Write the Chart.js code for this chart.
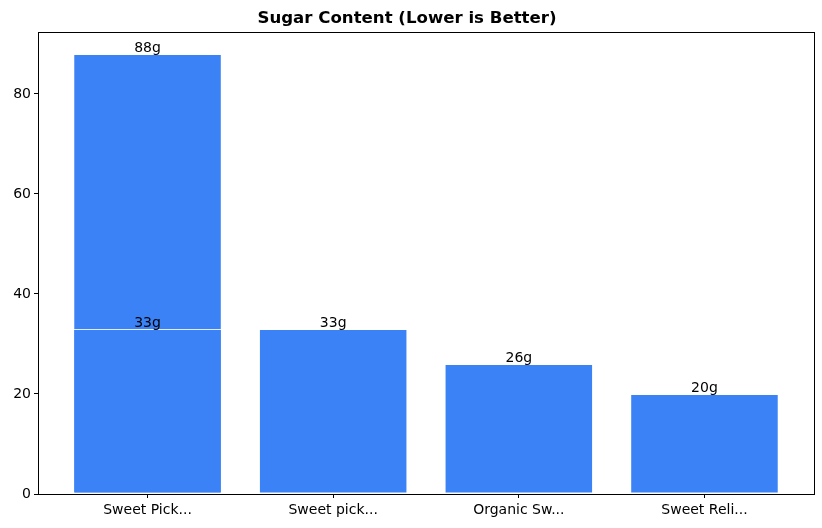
<!DOCTYPE html>
<html>
<head>
<meta charset="utf-8">
<script src="https://cdn.jsdelivr.net/npm/chart.js@4"></script>
<style>
  html, body { margin: 0; padding: 0; background: #fff; }
  #wrap { width: 822px; height: 528px; }
</style>
</head>
<body>
<div id="wrap"><canvas id="sugarChart"></canvas></div>
<script>
// products as they were plotted (the first two share a truncated name)
const productLabels = ["Sweet Pick...", "Sweet Pick...", "Sweet pick...", "Organic Sw...", "Sweet Reli..."];
const sugarGrams = [88, 33, 33, 26, 20];
const yTicks = [0, 20, 40, 60, 80];

// duplicate names end up on the same slot, like a categorical axis does
const categories = [...new Set(productLabels)];
const points = productLabels.map((label, i) => ({ x: categories.indexOf(label), y: sugarGrams[i] }));

const FONT = "'DejaVu Sans', sans-serif";

const valueLabels = {
  id: "valueLabels",
  afterDatasetsDraw(chart) {
    const ctx = chart.ctx;
    const meta = chart.getDatasetMeta(0);
    ctx.save();
    ctx.font = "14px " + FONT;
    ctx.fillStyle = "#000";
    ctx.textAlign = "center";
    ctx.textBaseline = "bottom";
    meta.data.forEach((bar, i) => {
      ctx.fillText(sugarGrams[i] + "g", bar.x, bar.y + 1);
    });
    ctx.restore();
  },
};

const frame = {
  id: "frame",
  afterDraw(chart) {
    const a = chart.chartArea;
    const ctx = chart.ctx;
    ctx.save();
    ctx.strokeStyle = "#000";
    ctx.lineWidth = 1;
    ctx.strokeRect(Math.round(a.left) + 0.5, Math.round(a.top) + 0.5,
      Math.round(a.right - a.left), Math.round(a.bottom - a.top));
    ctx.restore();
  },
};

const sugarChart = new Chart(document.getElementById("sugarChart"), {
  type: "bar",
  data: {
    datasets: [
      {
        label: "Sugar (g)",
        data: points,
        backgroundColor: "#3b82f6",
        borderColor: "rgba(255, 255, 255, 0.85)",
        borderWidth: 1,
        borderSkipped: false,
        barPercentage: 0.8,
        categoryPercentage: 1,
        grouped: false,
      },
    ],
  },
  options: {
    responsive: true,
    maintainAspectRatio: false,
    animation: false,
    layout: { padding: { left: 0, right: 8, top: 0, bottom: 0 } },
    plugins: {
      legend: { display: false },
      tooltip: { enabled: false },
      title: {
        display: true,
        text: "Sugar Content (Lower is Better)",
        color: "#000",
        font: { family: FONT, size: 16.6, weight: "bold" },
        padding: { top: 9, bottom: 3 },
      },
    },
    scales: {
      x: {
        type: "linear",
        min: -0.59,
        max: 3.59,
        offset: false,
        afterBuildTicks: (scale) => {
          scale.ticks = categories.map((c, i) => ({ value: i }));
        },
        afterFit: (scale) => { scale.height = 34; },
        ticks: {
          color: "#000",
          font: { family: FONT, size: 14 },
          padding: 4,
          maxRotation: 0,
          callback: (value) => categories[value],
        },
        grid: { offset: false, drawOnChartArea: false, drawTicks: true, tickLength: 4, color: "#000" },
        border: { display: false },
      },
      y: {
        min: 0,
        max: 92.4,
        afterBuildTicks: (scale) => {
          scale.ticks = yTicks.map((v) => ({ value: v }));
        },
        afterFit: (scale) => { scale.width = 38; },
        ticks: {
          color: "#000",
          font: { family: FONT, size: 14 },
          padding: 3,
        },
        grid: { drawOnChartArea: false, drawTicks: true, tickLength: 4, color: "#000" },
        border: { display: false },
      },
    },
  },
  plugins: [valueLabels, frame],
});
</script>
</body>
</html>
